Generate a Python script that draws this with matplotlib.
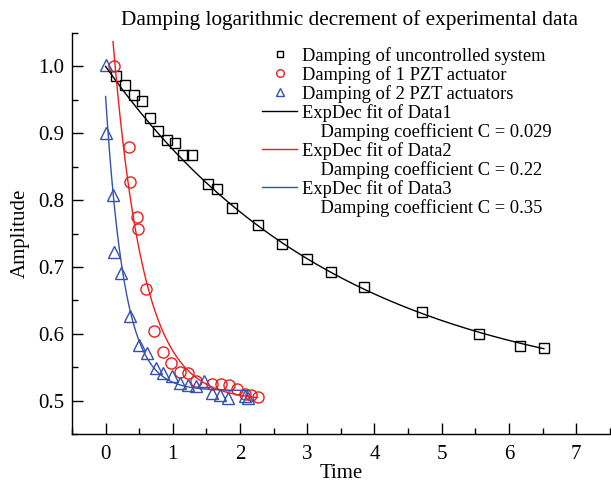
import numpy as np
import matplotlib
matplotlib.use("Agg")
import matplotlib.pyplot as plt
from matplotlib.lines import Line2D
from matplotlib.ticker import MultipleLocator

plt.rcParams['font.family'] = ['Liberation Serif', 'DejaVu Serif']

# data
t1 = [0.16, 0.29, 0.42, 0.54, 0.66, 0.78, 0.91, 1.03, 1.15, 1.28, 1.52, 1.65, 1.88,
      2.27, 2.62, 2.99, 3.35, 3.84, 4.70, 5.55, 6.16, 6.52]
a1 = [0.985, 0.972, 0.957, 0.948, 0.923, 0.903, 0.890, 0.885, 0.867, 0.867, 0.824, 0.816, 0.788,
      0.762, 0.735, 0.712, 0.693, 0.670, 0.632, 0.599, 0.581, 0.578]

t2 = [0.12, 0.35, 0.36, 0.47, 0.48, 0.60, 0.72, 0.85, 0.97, 1.10, 1.22, 1.34, 1.59,
      1.71, 1.83, 1.96, 2.08, 2.17, 2.26]
a2 = [1.001, 0.879, 0.827, 0.775, 0.757, 0.667, 0.604, 0.573, 0.556, 0.543, 0.541, 0.530, 0.525,
      0.525, 0.523, 0.517, 0.510, 0.508, 0.506]

t3 = [0.0, 0.01, 0.11, 0.12, 0.23, 0.37, 0.49, 0.62, 0.75, 0.85, 0.99, 1.10, 1.23,
      1.35, 1.47, 1.59, 1.70, 1.82, 2.07, 2.12]
a3 = [1.002, 0.900, 0.808, 0.723, 0.691, 0.627, 0.583, 0.571, 0.549, 0.541, 0.537, 0.527, 0.524,
      0.522, 0.529, 0.512, 0.509, 0.504, 0.507, 0.504]

# ExpDec1 fit parameters: y = y0 + A*exp(-x/tau), and drawn range
fit1 = dict(y0=0.50, A=0.50, tau=3.5, x0=0.0, x1=6.52)
fit2 = dict(y0=0.50, A=0.686, tau=0.45, x0=0.11, x1=2.26)
fit3 = dict(y0=0.515, A=0.44, tau=0.28, x0=0.0, x1=2.12)

coef = ['0.029', '0.22', '0.35']

c_black = 'black'
c_red = '#f01c1c'
c_blue = '#3450b0'

fig = plt.figure(figsize=(6.11, 4.84), dpi=100)
ax = fig.add_axes([0.1178, 0.1033, 0.8802, 0.8285])


def expdec(p):
    x = np.linspace(p['x0'], p['x1'], 300)
    return x, p['y0'] + p['A'] * np.exp(-x / p['tau'])


ms = 7.5
ax.plot(t1, a1, 's', ms=ms, mfc='none', mec=c_black, mew=1.0)
ax.plot(t2, a2, 'o', ms=ms + 0.5, mfc='none', mec=c_red, mew=1.0)
ax.plot(t3, a3, '^', ms=ms + 1, mfc='none', mec=c_blue, mew=1.0)

for p, c in zip([fit1, fit2, fit3], [c_black, c_red, c_blue]):
    x, y = expdec(p)
    ax.plot(x, y, '-', color=c, lw=1.0)

ax.set_xlim(-0.5, 7.5)
ax.set_ylim(0.45, 1.05)
ax.xaxis.set_major_locator(MultipleLocator(1))
ax.xaxis.set_minor_locator(MultipleLocator(0.5))
ax.yaxis.set_major_locator(MultipleLocator(0.1))
ax.yaxis.set_minor_locator(MultipleLocator(0.05))
ax.tick_params(which='both', direction='in', labelsize=15, width=1.0)
ax.tick_params(which='major', length=8)
ax.tick_params(which='minor', length=4)
ax.tick_params(axis='x', which='both', pad=8)
ax.tick_params(axis='y', which='both', pad=5.5)
ax.yaxis.set_major_formatter(matplotlib.ticker.FormatStrFormatter('%.1f'))
for s in ['top', 'right']:
    ax.spines[s].set_visible(False)
for s in ['left', 'bottom']:
    ax.spines[s].set_linewidth(1.0)

ax.set_xlabel('Time', fontsize=15, labelpad=0)
ax.set_ylabel('Amplitude', fontsize=15, labelpad=6)
fig.text(349.5 / 611, 1 - 25 / 484, 'Damping logarithmic decrement of experimental data',
         fontsize=15.3, ha='center', va='baseline')

lm = 5
blank = Line2D([], [], linestyle='none', marker='none')
handles = [
    Line2D([], [], linestyle='none', marker='s', ms=lm, mfc='none', mec=c_black),
    Line2D([], [], linestyle='none', marker='o', ms=lm + 0.5, mfc='none', mec=c_red),
    Line2D([], [], linestyle='none', marker='^', ms=lm + 1, mfc='none', mec=c_blue),
    Line2D([], [], color=c_black, lw=1.0), blank,
    Line2D([], [], color=c_red, lw=1.0), blank,
    Line2D([], [], color=c_blue, lw=1.0), blank,
]
labels = [
    'Damping of uncontrolled system',
    'Damping of 1 PZT actuator',
    'Damping of 2 PZT actuators',
    'ExpDec fit of Data1', '    Damping coefficient C = ' + coef[0],
    'ExpDec fit of Data2', '    Damping coefficient C = ' + coef[1],
    'ExpDec fit of Data3', '    Damping coefficient C = ' + coef[2],
]
ax.legend(handles, labels, loc='upper left', bbox_to_anchor=(0.33, 0.9975),
          frameon=False, fontsize=13.3, labelspacing=0.06, handlelength=1.9,
          handletextpad=0.22, borderpad=0.2)

fig.savefig('out.png', dpi=100)
